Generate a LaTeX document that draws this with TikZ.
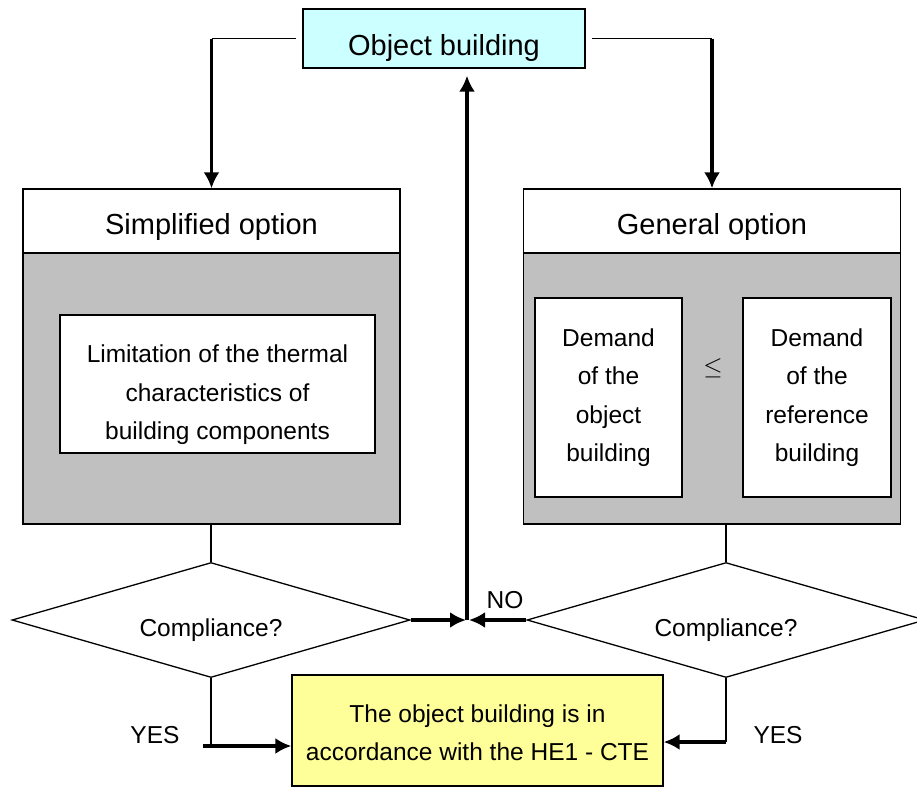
\documentclass[tikz,border=0pt]{standalone}
\usepackage{fontspec}
\setmainfont{Liberation Sans}
\usetikzlibrary{shapes.geometric,arrows.meta}
\definecolor{obcyan}{HTML}{CCFFFF}
\definecolor{optgray}{HTML}{C0C0C0}
\definecolor{okyellow}{HTML}{FFFF99}

\begin{document}
\begin{tikzpicture}[x=1pt, y=-1pt, every node/.style={font=\fontsize{24.5}{38.5}\selectfont}]
        \useasboundingbox (0,0) rectangle (917,787);
        \tikzstyle{box}=[rectangle, draw, line width=1.3pt, inner sep=0pt, align=center]
        \tikzstyle{hd}=[box, fill=white, minimum width=377pt, minimum height=64pt, text height=26pt, text depth=0pt, font=\fontsize{29}{35}\selectfont]
        \tikzstyle{body}=[box, fill=optgray, minimum width=377pt, minimum height=271pt]
        \tikzstyle{inbox}=[box, fill=white]
        \tikzstyle{dia}=[diamond, draw, line width=1.3pt, inner sep=0pt, aspect=3.46, minimum width=398pt, minimum height=115pt, text height=32pt, text depth=0pt]
        \node[box, fill=obcyan, minimum width=282pt, minimum height=59pt, text height=33pt, text depth=0pt, font=\fontsize{29}{35}\selectfont] (OB) at (444,38.5) {Object building};
        \node[body] (SB) at (211.5,388.5) {};
        \node[hd] (SH) at (211.5,221) {Simplified option};
        \node[inbox, minimum width=315pt, minimum height=138pt] (LIM) at (217.5,384) {\rule{0pt}{40pt}Limitation of the thermal\\characteristics of\\building components};
        \node[body] (GB) at (712,388.5) {};
        \node[hd] (GH) at (712,221) {General option};
        \node[inbox, minimum width=147pt, minimum height=199pt] (DOB) at (608.5,397.5) {Demand\\of the\\object\\building};
        \node[inbox, minimum width=148pt, minimum height=199pt] (DREF) at (817,397.5) {Demand\\of the\\reference\\building};
        \node (LE) at (713,368) {$\leq$};
        \node[dia] (C1) at (211,620) {Compliance?};
        \node[dia] (C2) at (726,620) {Compliance?};
        \node[box, fill=okyellow, minimum width=371pt, minimum height=111pt] (OK) at (477.5,730.5) {\rule{0pt}{22pt}The object building is in\\accordance with the HE1 - CTE};

        \tikzstyle{late}=[-{Latex[length=16pt,width=16pt]}, line width=3.3pt]
        \tikzstyle{ln}=[line width=1.3pt]
        \coordinate (TL) at (SH.north |- OB.west);
        \coordinate (TR) at (GH.north |- OB.east);
        \coordinate (J) at (467,620);
        \coordinate (YL) at (211,746);
        \coordinate (YR) at (726,742);
        \draw[ln, shorten <=6pt] (OB.west) -- (TL);
        \draw[late] (TL) -- (SH.north);
        \draw[ln, shorten <=6pt] (OB.east) -- (TR);
        \draw[late] (TR) -- (GH.north);
        \draw[ln] (C1.north |- SB.south) -- (C1.north);
        \draw[ln] (C2.north |- GB.south) -- (C2.north);
        \draw[late] (C1.east) -- ([xshift=-1pt]J);
        \draw[late] (C2.west) -- ([xshift=2pt]J);
        \draw[late, shorten >=7pt] (J) -- (J |- OB.south);
        \node (NO) at (505,600) {NO};
        \draw[ln] (C1.south) -- (YL);
        \draw[late, shorten <=-8pt] (YL) -- (YL -| OK.west);
        \draw[ln] (C2.south) -- (YR);
        \draw[late] (YR) -- (YR -| OK.east);
        \node (Y1) at (155,735) {YES};
        \node (Y2) at (778,735) {YES};
\end{tikzpicture}
\end{document}
